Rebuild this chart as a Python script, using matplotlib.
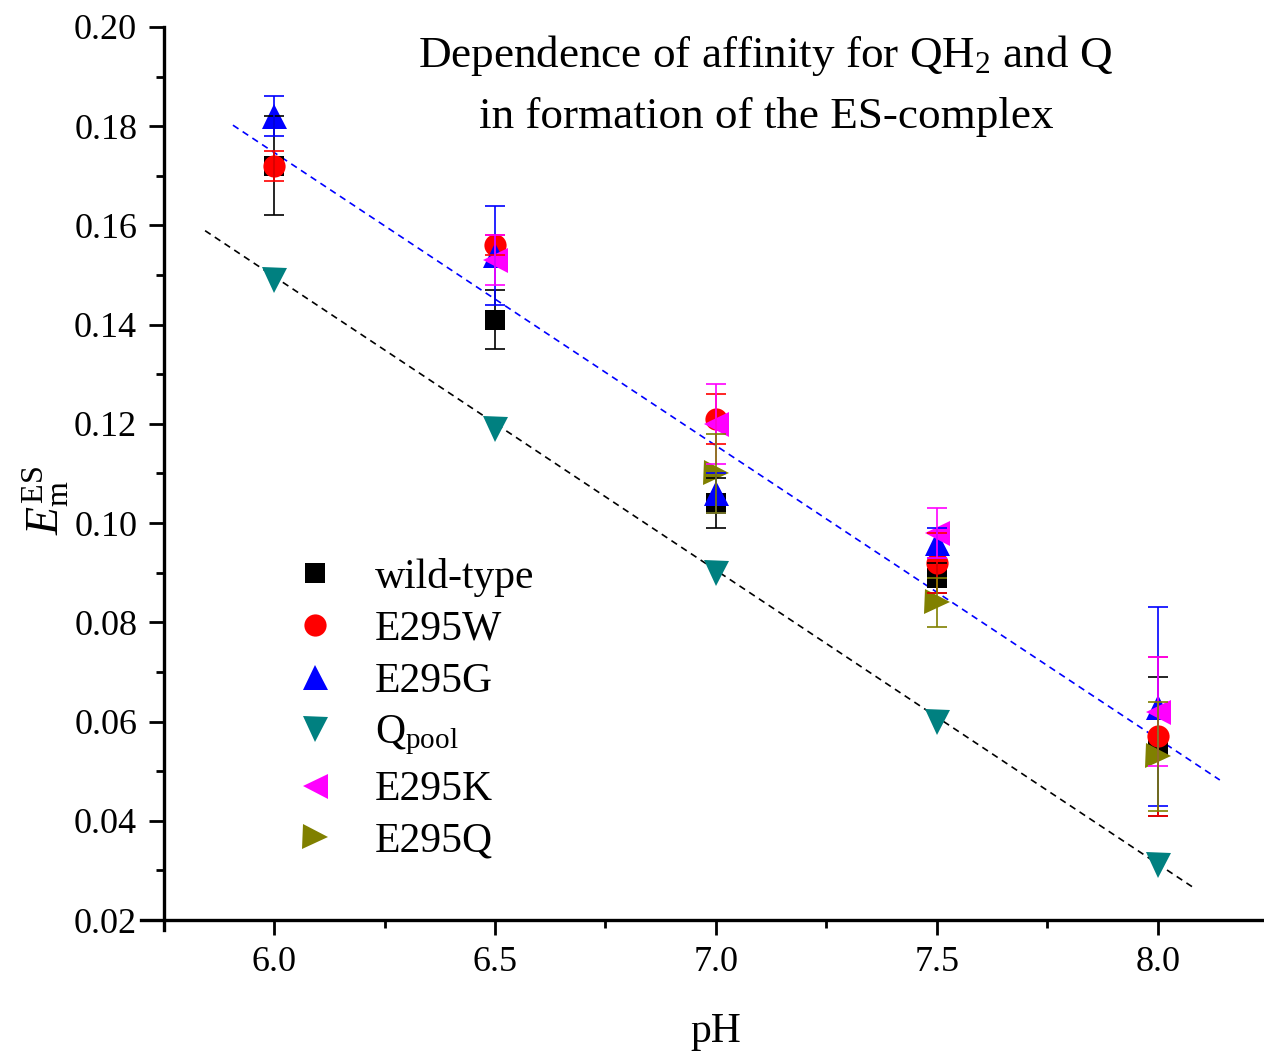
import numpy as np
import matplotlib
matplotlib.use("Agg")
import matplotlib.pyplot as plt
from matplotlib.ticker import MultipleLocator, FormatStrFormatter

plt.rcParams['font.family'] = ['Liberation Serif', 'DejaVu Serif']
plt.rcParams['mathtext.fontset'] = 'custom'
plt.rcParams['mathtext.rm'] = 'Liberation Serif'
plt.rcParams['mathtext.it'] = 'Liberation Serif:italic'
plt.rcParams['mathtext.bf'] = 'Liberation Serif:bold'

# ---- data ----
ph_all = [6.0, 6.5, 7.0, 7.5, 8.0]

wt_y = [0.172, 0.141, 0.104, 0.089, 0.055]
wt_err = [0.010, 0.006, 0.005, 0.003, 0.014]

w_y = [0.172, 0.156, 0.121, 0.092, 0.057]
w_err = [0.003, 0.002, 0.005, 0.006, 0.016]

g_y = [0.182, 0.154, 0.106, 0.096, 0.063]
g_err = [0.004, 0.010, 0.004, 0.003, 0.020]

qpool_y = [0.149, 0.119, 0.090, 0.060, 0.031]

k_ph = [6.5, 7.0, 7.5, 8.0]
k_y = [0.153, 0.120, 0.098, 0.062]
k_err = [0.005, 0.008, 0.005, 0.011]

q_ph = [7.0, 7.5, 8.0]
q_y = [0.110, 0.084, 0.053]
q_err = [0.008, 0.005, 0.011]

labels = ['wild-type', 'E295W', 'E295G', r'Q$_{\mathrm{pool}}$', 'E295K', 'E295Q']

# linear fit coefficients (slope, intercept) and ranges (pH)
blue_fit = [-0.0591, 0.5293]
blue_fit_range = [5.907, 8.14]
black_fit = [-0.0592, 0.5049]
black_fit_range = [5.844, 8.077]

# ---- figure ----
fig = plt.figure(figsize=(12.64, 10.55), dpi=100)
ax = fig.add_axes([0.1119, 0.1185, 0.8916, 0.856])

series = [
    (ph_all, wt_y, wt_err, 's', 14, 'black'),
    (ph_all, w_y, w_err, 'o', 16, '#FF0000'),
    (ph_all, g_y, g_err, '^', 18, '#0000FF'),
    (ph_all, qpool_y, None, 'v', 18, '#008080'),
    (k_ph, k_y, k_err, '<', 18, '#FF00FF'),
    (q_ph, q_y, q_err, '>', 18, '#808000'),
]

handles = []
for (x, y, e, m, ms, c), lab in zip(series, labels):
    h, = ax.plot(x, y, linestyle='none', marker=m, markersize=ms, color=c,
                 markeredgewidth=0, label=lab, zorder=3)
    handles.append(h)
for (x, y, e, m, ms, c) in series:
    if e is not None:
        ax.errorbar(x, y, yerr=e, fmt='none', ecolor=c, elinewidth=1.2,
                    capsize=7, capthick=1.2, zorder=4)

# linear fits
xb = np.array(blue_fit_range)
xk = np.array(black_fit_range)
ax.plot(xb, np.polyval(blue_fit, xb), color='#0000FF', linestyle=(0, (4, 3)), linewidth=1.2, zorder=2)
ax.plot(xk, np.polyval(black_fit, xk), color='black', linestyle=(0, (4, 3)), linewidth=1.2, zorder=2)

# axes
ax.set_xlim(5.7, 8.25)
ax.set_ylim(0.018, 0.20)
ax.spines['top'].set_visible(False)
ax.spines['right'].set_visible(False)
ax.spines['left'].set_position(('data', 5.75))
ax.spines['bottom'].set_position(('data', 0.02))
ax.spines['left'].set_bounds(0.018, 0.20)
for s in ['left', 'bottom']:
    ax.spines[s].set_linewidth(2.4)

ax.xaxis.set_major_locator(MultipleLocator(0.5))
ax.xaxis.set_minor_locator(MultipleLocator(0.25))
ax.yaxis.set_major_locator(MultipleLocator(0.02))
ax.yaxis.set_minor_locator(MultipleLocator(0.01))
ax.xaxis.set_major_formatter(FormatStrFormatter('%.1f'))
ax.yaxis.set_major_formatter(FormatStrFormatter('%.2f'))
ax.set_xticks([6.0, 6.5, 7.0, 7.5, 8.0])
ax.set_yticks(np.arange(0.02, 0.2001, 0.02))
ax.tick_params(axis='both', which='major', direction='out', length=11, width=2.0,
               labelsize=26, pad=8)
ax.tick_params(axis='both', which='minor', direction='out', length=6, width=2.0)

ax.set_xlabel('pH', fontsize=30)
ax.xaxis.set_label_coords(0.51, -0.113)
ax.xaxis.label.set_va('center')
ax.text(-0.0855, 0.476, r'$E_{\mathrm{m}}^{\mathrm{ES}}$', transform=ax.transAxes,
        rotation=90, fontsize=33, ha='center', va='center')

ax.text(0.554, 0.936, 'Dependence of affinity for QH$_2$ and Q\nin formation of the ES-complex',
        transform=ax.transAxes, ha='center', va='center', fontsize=32.5, linespacing=1.62,
        multialignment='center')

ax.legend(handles=handles, loc='upper left', bbox_to_anchor=(0.1355, 0.412),
          frameon=False, fontsize=30, handlelength=1.0, handletextpad=0.94,
          labelspacing=0.32, borderpad=0, borderaxespad=0)

fig.savefig('out.png', dpi=100)
